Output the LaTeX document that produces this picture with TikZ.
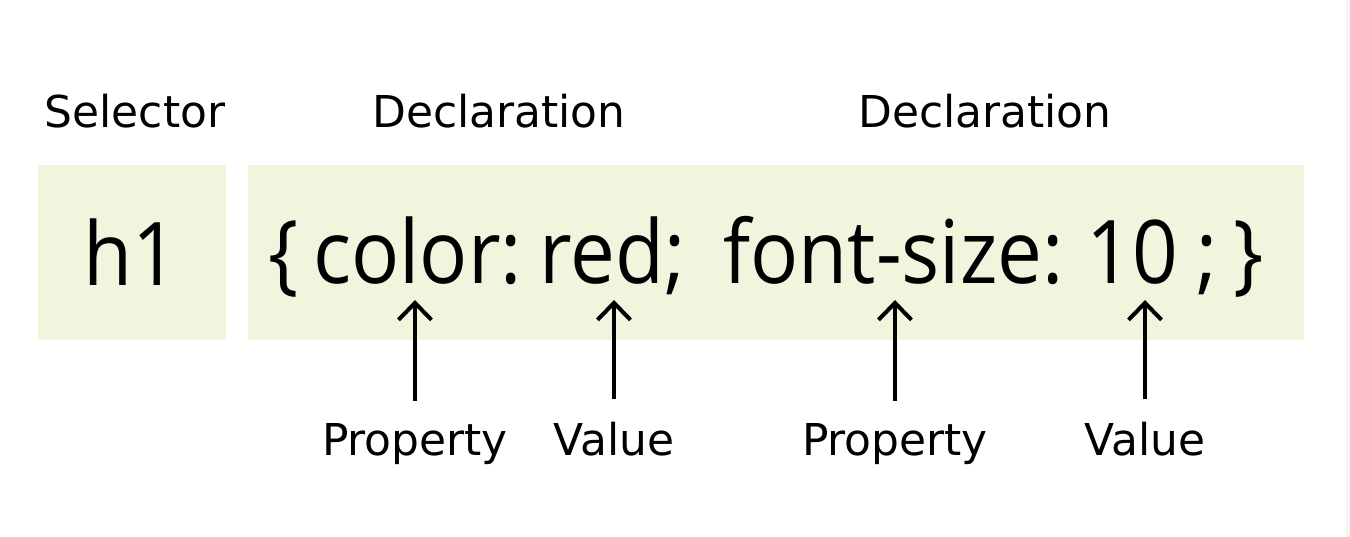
\documentclass[tikz,border=0pt]{standalone}
\usepackage{fontspec}
\setmainfont{DejaVu Sans}
\newfontfamily\codefont[FakeStretch=0.91]{Open Sans}
\usetikzlibrary{arrows.meta}
\definecolor{boxfill}{RGB}{242,244,221}

\begin{document}
\begin{tikzpicture}[x=0.02cm, y=-0.02cm, >={Straight Barb[length=0.34cm, width=0.66cm]},
	lab/.style={font=\fontsize{25}{30}\selectfont, inner sep=0pt, anchor=base},
	code/.style={font=\codefont\fontsize{50}{60}\selectfont, inner sep=0pt, anchor=base west},
	pointer/.style={->, line width=2.3pt, shorten <=0.44cm, shorten >=0.34cm}]
	\useasboundingbox (0,0) rectangle (1350,537);
	\fill[white] (0,0) rectangle (1350,537);
	\fill[gray!8] (1346,0) rectangle (1350,537);
	\fill[boxfill] (38,165) rectangle (226,340);
	\fill[boxfill] (248,165) rectangle (1304,340);
	\node[lab] (selector) at (135,128) {Selector};
	\node[lab] (decl1) at (499,128) {Declaration};
	\node[lab] (decl2) at (985,128) {Declaration};
	\node[code, anchor=base] (h1) at (131,285) {h1};
	\node[code] (lbrace) at (268,283) {\{};
	\node[code] (color) at (313,283) {color:};
	\node[code] (red) at (539,283) {red;};
	\node[code] (fontsize) at (723,283) {font-size:};
	\node[code] (ten) at (1086,283) {10};
	\node[code] (semi) at (1196,283) {;};
	\node[code] (rbrace) at (1233,283) {\}};
	\node[lab] (prop1) at (415,455) {Property};
	\node[lab] (val1) at (614,455) {Value};
	\node[lab] (prop2) at (895,455) {Property};
	\node[lab] (val2) at (1145,455) {Value};
	\draw[pointer] (prop1) -- (prop1 |- color.base);
	\draw[pointer] (val1) -- (val1 |- red.base);
	\draw[pointer] (prop2) -- (prop2 |- fontsize.base);
	\draw[pointer] (val2) -- (val2 |- ten.base);
\end{tikzpicture}
\end{document}
